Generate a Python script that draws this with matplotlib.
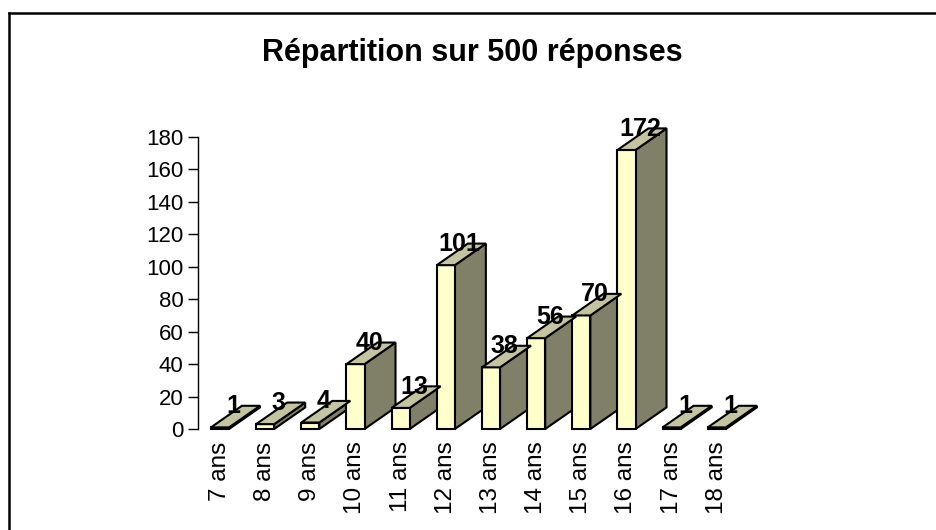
import matplotlib
matplotlib.use("Agg")
import matplotlib.pyplot as plt
from matplotlib.patches import Polygon
from matplotlib.lines import Line2D

plt.rcParams['font.family'] = ['Liberation Sans', 'DejaVu Sans']

# data
ages = ["7 ans", "8 ans", "9 ans", "10 ans", "11 ans", "12 ans",
        "13 ans", "14 ans", "15 ans", "16 ans", "17 ans", "18 ans"]
counts = [1, 3, 4, 40, 13, 101, 38, 56, 70, 172, 1, 1]
y_ticks = [0, 20, 40, 60, 80, 100, 120, 140, 160, 180]

W, H = 937, 530
fig = plt.figure(figsize=(W / 100, H / 100), dpi=100)

# plot area in pixels
left_px, right_px = 198, 762
bottom_px, top_px = 429, 137
ax = fig.add_axes([left_px / W, 1 - bottom_px / H,
                   (right_px - left_px) / W, (bottom_px - top_px) / H])
ax.set_xlim(-0.487, 12)
ax.set_ylim(0, 180)

front = "#FFFFCC"
top_col = "#C4C4A0"
side_col = "#808068"
bw = 0.4      # bar width (category units)
dx = 0.686    # depth offset x (category units)
dy = 13.3     # depth offset y (value units)
lw = 1.5

x = list(range(len(ages)))
ax.bar(x, counts, width=bw, color=front, edgecolor="black", linewidth=lw,
       zorder=3, clip_on=False)
for xi, v in zip(x, counts):
    x0, x1 = xi - bw / 2, xi + bw / 2
    top = Polygon([(x0, v), (x1, v), (x1 + dx, v + dy), (x0 + dx, v + dy)],
                  closed=True, facecolor=top_col, edgecolor="black",
                  linewidth=lw, zorder=3, clip_on=False)
    side = Polygon([(x1, 0), (x1 + dx, dy), (x1 + dx, v + dy), (x1, v)],
                   closed=True, facecolor=side_col, edgecolor="black",
                   linewidth=lw, zorder=2.9, clip_on=False)
    ax.add_patch(side)
    ax.add_patch(top)
    ax.text(xi + 0.3, v + 13, str(v), ha="center", va="center",
            fontsize=18, fontweight="bold", zorder=5, clip_on=False)

ax.set_xticks(x)
ax.set_xticklabels(ages, rotation=90, fontsize=17.5)
ax.tick_params(axis="x", length=0, pad=9)
ax.set_yticks(y_ticks)
ax.tick_params(axis="y", labelsize=16, length=7.5, width=1, direction="out", pad=3)
for s in ["top", "right", "bottom"]:
    ax.spines[s].set_visible(False)
ax.spines["left"].set_linewidth(1)

fig.text(472 / W, 1 - 53 / H, "Répartition sur 500 réponses",
         ha="center", va="center", fontsize=22, fontweight="bold")

# chart frame (only top and left edges visible)
fig.add_artist(Line2D([9 / W, 1], [1 - 13 / H, 1 - 13 / H],
                      transform=fig.transFigure, color="black", lw=1.8))
fig.add_artist(Line2D([9 / W, 9 / W], [0, 1 - 13 / H],
                      transform=fig.transFigure, color="black", lw=1.8))

fig.savefig("out.png", dpi=100)
